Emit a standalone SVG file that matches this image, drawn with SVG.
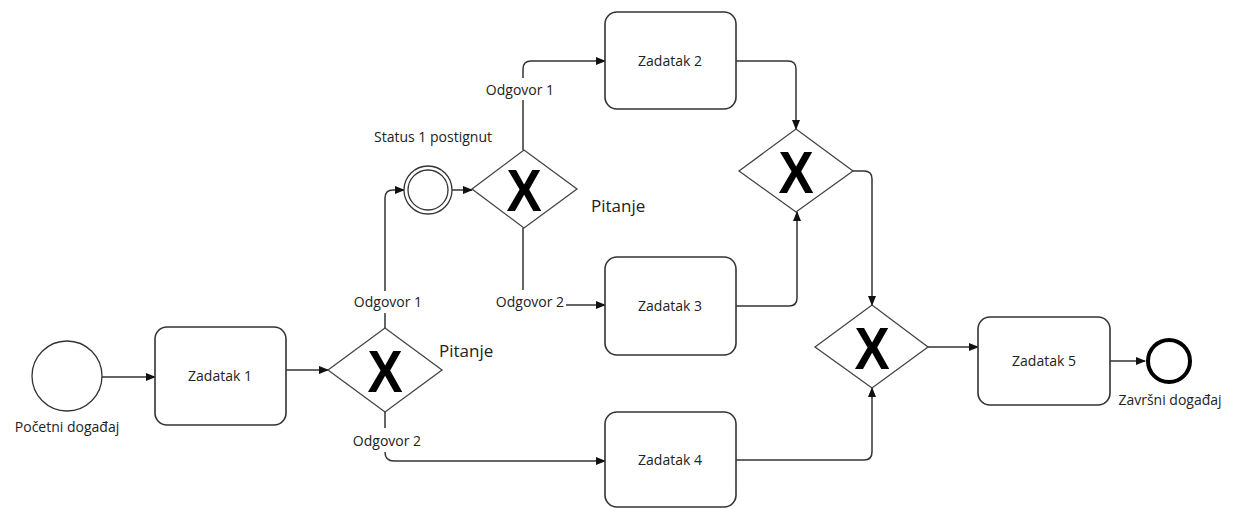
<svg xmlns="http://www.w3.org/2000/svg" width="1240" height="509" viewBox="0 0 1240 509">
<defs>
<marker id="arr" markerWidth="10" markerHeight="8" refX="9" refY="4" orient="auto" markerUnits="userSpaceOnUse">
<path d="M0,0 L10,4 L0,8 Z" fill="#111"/>
</marker>
<style>
.task{fill:#fff;stroke:#333;stroke-width:1.6}
.gw{fill:#fff;stroke:#444;stroke-width:1.3}
.ev{fill:#fff;stroke:#333;stroke-width:1.3}
.conn{fill:none;stroke:#333;stroke-width:1.5}
.lbl{font-family:"Open Sans","Noto Sans",sans-serif;font-size:14px;fill:#222;text-anchor:middle}
.tl{font-family:"Open Sans","Noto Sans",sans-serif;font-size:14px;fill:#222;text-anchor:middle}
.q{font-family:"Open Sans","Noto Sans",sans-serif;font-size:17px;fill:#222}
.x{font-family:"Liberation Sans",Arial,sans-serif;font-weight:bold;font-size:60px;fill:#000;text-anchor:middle}
</style>
</defs>
<rect width="1240" height="509" fill="#fff"/>
<g id="connectors">
<path class="conn" d="M102 377 H155" marker-end="url(#arr)"/>
<path class="conn" d="M286 370 H328" marker-end="url(#arr)"/>
<path class="conn" d="M385 328 V313"/>
<path class="conn" d="M385 291 V198 Q385 190 393 190 H404" marker-end="url(#arr)"/>
<path class="conn" d="M452 190 H472" marker-end="url(#arr)"/>
<path class="conn" d="M523 150 V100"/>
<path class="conn" d="M523 78 V69 Q523 61 531 61 H605" marker-end="url(#arr)"/>
<path class="conn" d="M523 228 V290"/>
<path class="conn" d="M566 305 H605" marker-end="url(#arr)"/>
<path class="conn" d="M385 412 V428"/>
<path class="conn" d="M385 452 Q385 461 394 461 H605" marker-end="url(#arr)"/>
<path class="conn" d="M736 61 H788 Q796 61 796 69 V129" marker-end="url(#arr)"/>
<path class="conn" d="M736 306 H789 Q797 306 797 298 V212" marker-end="url(#arr)"/>
<path class="conn" d="M853 171 H864 Q872 171 872 179 V305" marker-end="url(#arr)"/>
<path class="conn" d="M736 460 H864 Q872 460 872 452 V388" marker-end="url(#arr)"/>
<path class="conn" d="M928 347 H978" marker-end="url(#arr)"/>
<path class="conn" d="M1110 361 H1145" marker-end="url(#arr)"/>
<text class="lbl" x="388" y="307">Odgovor 1</text>
<text class="lbl" x="387" y="446">Odgovor 2</text>
<text class="lbl" x="520" y="95">Odgovor 1</text>
<text class="lbl" x="530" y="307">Odgovor 2</text>
</g>
<g id="start">
<circle class="ev" cx="67" cy="376" r="35"/>
<text class="lbl" x="67" y="432">Početni događaj</text>
</g>
<g id="task1">
<rect class="task" x="155" y="327" width="131" height="98" rx="12"/>
<text class="tl" x="220" y="381">Zadatak 1</text>
</g>
<g id="gateway1">
<polygon class="gw" points="328,370 385,328 442,370 385,412"/>
<text class="x" transform="translate(385,392) scale(0.88,1)">X</text>
<text class="q" x="439" y="357">Pitanje</text>
</g>
<g id="intermediate">
<circle class="ev" cx="428" cy="190" r="24"/>
<circle class="ev" cx="428" cy="190" r="20"/>
<text class="lbl" x="433" y="142">Status 1 postignut</text>
</g>
<g id="gateway2">
<polygon class="gw" points="472,189 524,150 577,189 524,228"/>
<text class="x" transform="translate(524,211) scale(0.88,1)">X</text>
<text class="q" x="591" y="212">Pitanje</text>
</g>
<g id="task2">
<rect class="task" x="605" y="12" width="131" height="97" rx="12"/>
<text class="tl" x="670" y="66">Zadatak 2</text>
</g>
<g id="task3">
<rect class="task" x="605" y="257" width="131" height="98" rx="12"/>
<text class="tl" x="670" y="311">Zadatak 3</text>
</g>
<g id="task4">
<rect class="task" x="605" y="412" width="131" height="95" rx="12"/>
<text class="tl" x="670" y="465">Zadatak 4</text>
</g>
<g id="gateway3">
<polygon class="gw" points="739,171 796,129 853,171 796,212"/>
<text class="x" transform="translate(796,193) scale(0.88,1)">X</text>
</g>
<g id="gateway4">
<polygon class="gw" points="815,347 872,305 928,347 872,388"/>
<text class="x" transform="translate(872,369) scale(0.88,1)">X</text>
</g>
<g id="task5">
<rect class="task" x="978" y="317" width="132" height="88" rx="12"/>
<text class="tl" x="1044" y="366">Zadatak 5</text>
</g>
<g id="end">
<circle cx="1169" cy="361" r="21" fill="#fff" stroke="#000" stroke-width="4"/>
<text class="lbl" x="1170" y="405">Završni događaj</text>
</g>
</svg>
